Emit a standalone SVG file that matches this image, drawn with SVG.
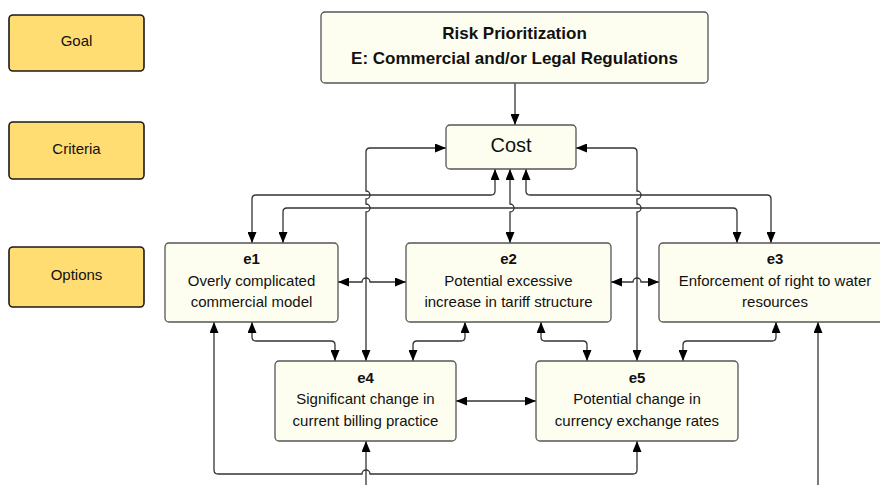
<svg xmlns="http://www.w3.org/2000/svg" width="880" height="485" viewBox="0 0 880 485">
  <defs>
    <marker id="arrow" viewBox="0 0 11 9" refX="11" refY="4.5" markerWidth="11" markerHeight="9" markerUnits="userSpaceOnUse" orient="auto-start-reverse">
      <path d="M0,0 L11,4.5 L0,9 Z" fill="#000"/>
    </marker>
    <style>
      .level rect { fill: #FFDD72; stroke: #1a1a1a; stroke-width: 1.6; }
      .node rect { fill: #FEFEF0; stroke: #555; stroke-width: 1.3; }
      text { font-family: "Liberation Sans", Arial, sans-serif; fill: #111; text-anchor: middle; }
      .lbl { font-size: 15px; }
      .title { font-size: 17px; font-weight: bold; }
      .big { font-size: 20px; }
      .id { font-size: 15px; font-weight: bold; }
      .conn path { fill: none; stroke: #333; stroke-width: 1.3; }
      .both { marker-start: url(#arrow); marker-end: url(#arrow); }
      .end { marker-end: url(#arrow); }
    </style>
  </defs>
  <rect width="880" height="485" fill="#fff"/>

  <!-- hierarchy level labels -->
  <g id="level-goal" class="level">
    <rect x="9" y="15" width="135" height="56" rx="4"/>
    <text class="lbl" x="76.5" y="46">Goal</text>
  </g>
  <g id="level-criteria" class="level">
    <rect x="9" y="122" width="135" height="57" rx="4"/>
    <text class="lbl" x="76.5" y="154">Criteria</text>
  </g>
  <g id="level-options" class="level">
    <rect x="9" y="247" width="135" height="60" rx="4"/>
    <text class="lbl" x="76.5" y="280">Options</text>
  </g>

  <!-- connectors -->
  <g id="connectors" class="conn">
    <path class="end" d="M515,83 V125"/>
    <!-- e4 <-> Cost (left) -->
    <path class="both" d="M366,361 V212 A4,4 0 0 0 366,204 V199 A4,4 0 0 0 366,191 V152 Q366,148 370,148 H446"/>
    <!-- e5 <-> Cost (right) -->
    <path class="both" d="M637,361 V212 A4,4 0 0 0 637,204 V199 A4,4 0 0 0 637,191 V152 Q637,148 633,148 H576"/>
    <!-- Cost <-> e1 -->
    <path class="both" d="M495,169 V191 Q495,195 491,195 H256 Q252,195 252,199 V243"/>
    <!-- e1 <-> e3 -->
    <path class="both" d="M283,243 V212 Q283,208 287,208 H733 Q737,208 737,212 V243"/>
    <!-- Cost <-> e2 -->
    <path class="both" d="M510,169 V204 A4,4 0 0 1 510,212 V243"/>
    <!-- Cost <-> e3 -->
    <path class="both" d="M526,169 V191 Q526,195 530,195 H767 Q771,195 771,199 V243"/>
    <!-- e1 <-> e2 -->
    <path class="both" d="M338,282 H362 A4,4 0 0 1 370,282 H406"/>
    <!-- e2 <-> e3 -->
    <path class="both" d="M611,282 H633 A4,4 0 0 1 641,282 H659"/>
    <!-- e4 <-> e5 -->
    <path class="both" d="M456,401 H536"/>
    <!-- e1 <-> e4 -->
    <path class="both" d="M252,322 V337 Q252,341 256,341 H331 Q335,341 335,345 V361"/>
    <!-- e2 <-> e4 -->
    <path class="both" d="M465,322 V337 Q465,341 461,341 H417 Q413,341 413,345 V361"/>
    <!-- e2 <-> e5 -->
    <path class="both" d="M541,322 V337 Q541,341 545,341 H583 Q587,341 587,345 V361"/>
    <!-- e3 <-> e5 -->
    <path class="both" d="M776,322 V337 Q776,341 772,341 H687 Q683,341 683,345 V361"/>
    <!-- incoming from below -->
    <path class="end" d="M818,485 V322"/>
    <path class="end" d="M366,485 V441"/>
    <!-- e5 <-> e1 (bottom loop) -->
    <path class="both" d="M637,441 V470 Q637,474 633,474 H370 A4,4 0 0 0 362,474 H218 Q214,474 214,470 V322"/>
  </g>

  <!-- goal -->
  <g id="goal" class="node">
    <rect x="321" y="12" width="387" height="71" rx="4"/>
    <text class="title" x="514.5" y="39">Risk Prioritization</text>
    <text class="title" x="514.5" y="64">E: Commercial and/or Legal Regulations</text>
  </g>

  <!-- criterion -->
  <g id="cost" class="node">
    <rect x="446" y="125" width="130" height="44" rx="4"/>
    <text class="big" x="511" y="152">Cost</text>
  </g>

  <!-- options -->
  <g id="e1" class="node">
    <rect x="165" y="243" width="173" height="79" rx="4"/>
    <text class="id" x="251.5" y="264">e1</text>
    <text class="lbl" x="251.5" y="286">Overly complicated</text>
    <text class="lbl" x="251.5" y="307">commercial model</text>
  </g>
  <g id="e2" class="node">
    <rect x="406" y="243" width="205" height="79" rx="4"/>
    <text class="id" x="508.5" y="264">e2</text>
    <text class="lbl" x="508.5" y="286">Potential excessive</text>
    <text class="lbl" x="508.5" y="307">increase in tariff structure</text>
  </g>
  <g id="e3" class="node">
    <rect x="659" y="243" width="232" height="79" rx="4"/>
    <text class="id" x="775" y="264">e3</text>
    <text class="lbl" x="775" y="286">Enforcement of right to water</text>
    <text class="lbl" x="775" y="307">resources</text>
  </g>
  <g id="e4" class="node">
    <rect x="275" y="361" width="181" height="80" rx="4"/>
    <text class="id" x="365.5" y="383">e4</text>
    <text class="lbl" x="365.5" y="404">Significant change in</text>
    <text class="lbl" x="365.5" y="426">current billing practice</text>
  </g>
  <g id="e5" class="node">
    <rect x="536" y="361" width="202" height="80" rx="4"/>
    <text class="id" x="637" y="383">e5</text>
    <text class="lbl" x="637" y="404">Potential change in</text>
    <text class="lbl" x="637" y="426">currency exchange rates</text>
  </g>
</svg>
